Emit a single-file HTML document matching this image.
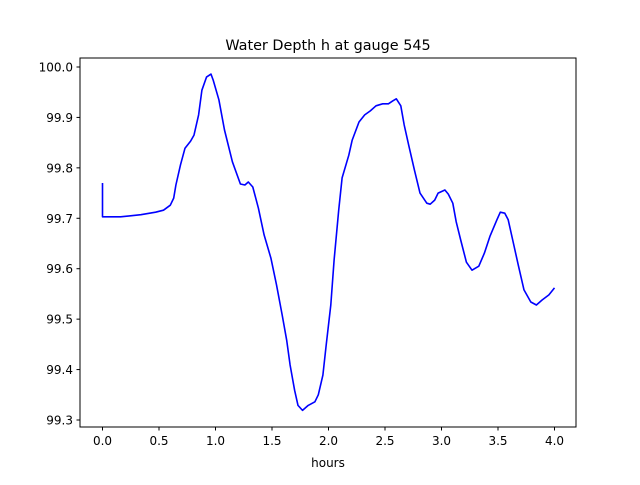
<!DOCTYPE html>
<html><head><meta charset="utf-8"><style>
body{margin:0;background:#fff;font-family:"Liberation Sans","DejaVu Sans",sans-serif;}
svg text{font-family:"DejaVu Sans","Liberation Sans",sans-serif;}
</style></head><body>
<svg id="chart" width="640" height="480">
<text x="328" y="50" text-anchor="middle" font-size="14.4">Water Depth h at gauge 545</text>
<rect x="80" y="58" width="496" height="369" fill="none" stroke="#000" stroke-width="1"/>
<g id="xt"></g>
<g id="yt"></g>
<text x="328" y="467" text-anchor="middle" font-size="12">hours</text>
<path id="line" fill="none" stroke="#0000ff" stroke-width="1.6" stroke-linejoin="round"/>
</svg>
<script>
const hours=[0,0,0.16,0.34,0.47,0.54,0.60,0.63,0.65,0.69,0.73,0.78,0.81,0.85,0.88,0.92,0.96,0.98,1.03,1.08,1.15,1.22,1.26,1.29,1.33,1.38,1.43,1.49,1.54,1.59,1.63,1.66,1.70,1.73,1.77,1.82,1.88,1.91,1.95,1.98,2.02,2.05,2.09,2.12,2.18,2.21,2.27,2.32,2.37,2.42,2.48,2.53,2.57,2.60,2.64,2.67,2.71,2.76,2.81,2.87,2.90,2.94,2.97,3.03,3.06,3.10,3.13,3.17,3.22,3.27,3.33,3.38,3.43,3.49,3.52,3.56,3.59,3.63,3.68,3.73,3.79,3.84,3.89,3.95,4.0];
const depth=[99.77,99.703,99.703,99.707,99.712,99.716,99.726,99.740,99.766,99.806,99.839,99.853,99.865,99.905,99.954,99.980,99.986,99.974,99.935,99.875,99.812,99.768,99.766,99.772,99.762,99.720,99.667,99.621,99.568,99.508,99.458,99.409,99.359,99.329,99.319,99.329,99.336,99.350,99.389,99.449,99.528,99.617,99.716,99.780,99.825,99.855,99.891,99.905,99.913,99.923,99.927,99.927,99.933,99.937,99.923,99.885,99.845,99.796,99.750,99.730,99.728,99.736,99.750,99.756,99.748,99.730,99.693,99.657,99.613,99.597,99.605,99.631,99.665,99.697,99.712,99.710,99.697,99.657,99.607,99.558,99.534,99.528,99.538,99.548,99.562];
const xTicks=[0,0.5,1,1.5,2,2.5,3,3.5,4];
const yTicks=[99.3,99.4,99.5,99.6,99.7,99.8,99.9,100.0];
const X=v=>102.5+(v-0)*113;
const Y=v=>420-(v-99.3)*504.3;
const NS="http://www.w3.org/2000/svg";
const xt=document.getElementById('xt'),yt=document.getElementById('yt');
xTicks.forEach(t=>{
 const l=document.createElementNS(NS,'line');
 l.setAttribute('x1',X(t));l.setAttribute('x2',X(t));l.setAttribute('y1',427);l.setAttribute('y2',430.5);l.setAttribute('stroke','#000');
 
 
 xt.appendChild(l);
 const s=document.createElementNS(NS,'text');
 s.setAttribute('x',X(t));s.setAttribute('y',445);s.setAttribute('text-anchor','middle');s.setAttribute('font-size','12');
 s.textContent=t.toFixed(1);
 
 
 xt.appendChild(s);
});
yTicks.forEach(t=>{
 const l=document.createElementNS(NS,'line');
 l.setAttribute('x1',76.5);l.setAttribute('x2',80);l.setAttribute('y1',Y(t));l.setAttribute('y2',Y(t));l.setAttribute('stroke','#000');
 
 
 yt.appendChild(l);
 const s=document.createElementNS(NS,'text');
 s.setAttribute('x',73);s.setAttribute('y',Y(t)+4.5);s.setAttribute('text-anchor','end');s.setAttribute('font-size','12');
 s.textContent=t.toFixed(1);
 
 
 yt.appendChild(s);
});
let d='';
hours.forEach((h,i)=>{d+=(i?'L':'M')+X(h).toFixed(1)+','+Y(depth[i]).toFixed(1);});
document.getElementById('line').setAttribute('d',d);
</script>
</body></html>
